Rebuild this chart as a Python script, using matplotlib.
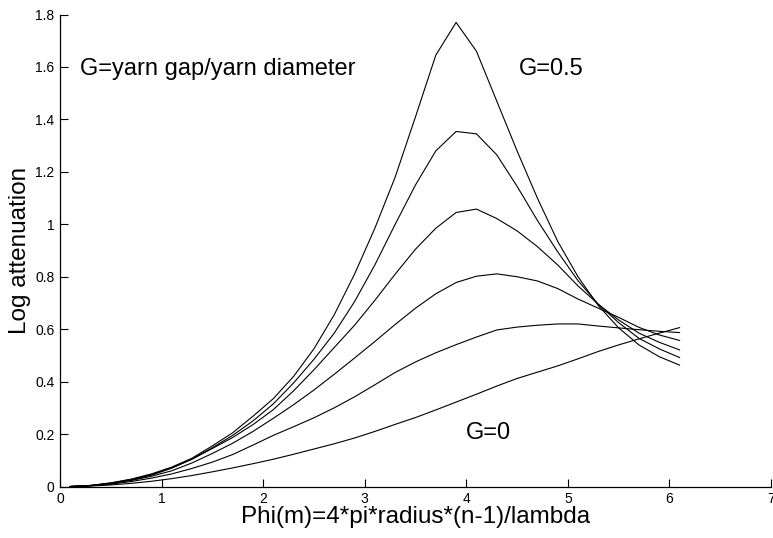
import numpy as np
import matplotlib
matplotlib.use('Agg')
import matplotlib.pyplot as plt

plt.rcParams['font.family'] = ['Liberation Sans', 'DejaVu Sans']

# phase parameter grid
phi = np.arange(0.1, 6.11, 0.2)

# log attenuation for each gap ratio G
g00 = [0.0, 0.002, 0.006, 0.012, 0.020, 0.030, 0.042, 0.056, 0.071, 0.087,
       0.104, 0.123, 0.143, 0.163, 0.185, 0.210, 0.237, 0.263, 0.292, 0.322,
       0.352, 0.383, 0.412, 0.436, 0.460, 0.487, 0.515, 0.540, 0.563, 0.585, 0.606]
g01 = [0.0, 0.003, 0.009, 0.019, 0.032, 0.048, 0.069, 0.093, 0.122, 0.158,
       0.195, 0.228, 0.262, 0.300, 0.342, 0.388, 0.435, 0.475, 0.510, 0.541,
       0.570, 0.597, 0.608, 0.615, 0.620, 0.620, 0.612, 0.605, 0.598, 0.592, 0.587]
g02 = [0.0, 0.003, 0.011, 0.023, 0.039, 0.060, 0.090, 0.126, 0.165, 0.210,
       0.260, 0.312, 0.368, 0.428, 0.490, 0.553, 0.618, 0.680, 0.735, 0.778,
       0.802, 0.811, 0.800, 0.784, 0.755, 0.715, 0.680, 0.645, 0.607, 0.578, 0.557]
g03 = [0.0, 0.004, 0.012, 0.025, 0.043, 0.070, 0.104, 0.145, 0.187, 0.236,
       0.293, 0.365, 0.445, 0.530, 0.615, 0.710, 0.810, 0.905, 0.985, 1.045,
       1.058, 1.022, 0.975, 0.915, 0.845, 0.765, 0.695, 0.635, 0.585, 0.550, 0.521]
g04 = [0.0, 0.004, 0.013, 0.027, 0.046, 0.071, 0.105, 0.148, 0.195, 0.250,
       0.315, 0.395, 0.485, 0.585, 0.705, 0.845, 1.000, 1.150, 1.280, 1.354,
       1.345, 1.265, 1.145, 1.015, 0.895, 0.785, 0.695, 0.625, 0.565, 0.525, 0.492]
g05 = [0.0, 0.004, 0.014, 0.028, 0.048, 0.074, 0.108, 0.155, 0.205, 0.268,
       0.335, 0.420, 0.525, 0.655, 0.810, 0.985, 1.180, 1.410, 1.645, 1.770,
       1.660, 1.470, 1.280, 1.100, 0.935, 0.800, 0.690, 0.605, 0.540, 0.495, 0.463]

xticks = [0, 1, 2, 3, 4, 5, 6, 7]
yticks = [0, 0.2, 0.4, 0.6, 0.8, 1.0, 1.2, 1.4, 1.6, 1.8]
ytick_labels = ['0', '0.2', '0.4', '0.6', '0.8', '1', '1.2', '1.4', '1.6', '1.8']

fig = plt.figure(figsize=(7.73, 5.38), dpi=100)
ax = fig.add_axes([0.0776, 0.0957, 0.9198, 0.8773])

for curve in [g00, g01, g02, g03, g04, g05]:
    ax.plot(phi, curve, color='black', linewidth=0.8)

ax.set_xlim(0, 7)
ax.set_ylim(0, 1.8)
ax.set_xticks(xticks)
ax.set_xticklabels([str(t) for t in xticks])
ax.set_yticks(yticks)
ax.set_yticklabels(ytick_labels)
ax.tick_params(direction='in', length=6, width=0.8, labelsize=10, pad=4)

ax.spines['top'].set_visible(False)
ax.spines['right'].set_visible(False)
for side in ['left', 'bottom']:
    ax.spines[side].set_linewidth(0.9)

ax.set_xlabel('Phi(m)=4*pi*radius*(n-1)/lambda', fontsize=17.5, labelpad=0)
ax.set_ylabel('Log attenuation', fontsize=17.5, labelpad=3)

ax.text(0.2, 1.594, 'G=yarn gap/yarn diameter', fontsize=17, va='center')
ax.text(4.52, 1.594, 'G=0.5', fontsize=17, va='center')
ax.text(4.0, 0.204, 'G=0', fontsize=17, va='center')

fig.savefig('out.png', dpi=100)
